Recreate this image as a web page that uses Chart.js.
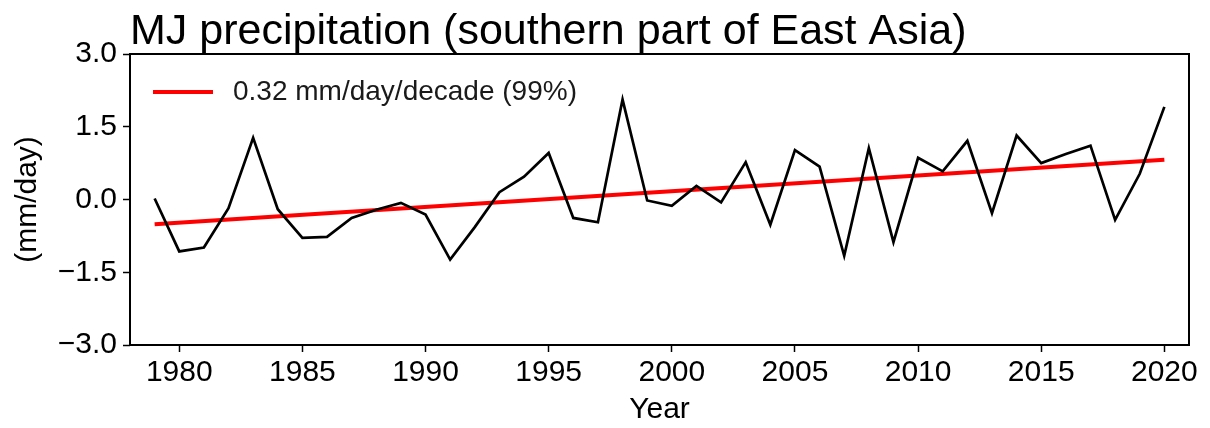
<!DOCTYPE html>
<html>
<head>
<meta charset="utf-8">
<script src="https://cdn.jsdelivr.net/npm/chart.js@4.4.1/dist/chart.umd.min.js"></script>
<style>
    html, body { margin: 0; padding: 0; background: #fff; }
    #wrap { width: 1210px; height: 428px; }
</style>
</head>
<body>
<div id="wrap"><canvas id="chart" width="1210" height="428"></canvas></div>
<script>
const years = [1979, 1980, 1981, 1982, 1983, 1984, 1985, 1986, 1987, 1988,
    1989, 1990, 1991, 1992, 1993, 1994, 1995, 1996, 1997, 1998,
    1999, 2000, 2001, 2002, 2003, 2004, 2005, 2006, 2007, 2008,
    2009, 2010, 2011, 2012, 2013, 2014, 2015, 2016, 2017, 2018,
    2019, 2020];
const precip = [0.02, -1.07, -0.99, -0.18, 1.27, -0.20, -0.79, -0.77, -0.38, -0.21,
    -0.07, -0.31, -1.24, -0.57, 0.15, 0.47, 0.96, -0.38, -0.47, 2.06,
    -0.02, -0.13, 0.28, -0.06, 0.77, -0.52, 1.02, 0.68, -1.16, 1.06,
    -0.88, 0.86, 0.58, 1.21, -0.28, 1.32, 0.75, 0.94, 1.11, -0.42,
    0.53, 1.91];
const trendYears = [1979, 2020];
const trendValues = [-0.51, 0.82];
const xTicks = [1980, 1985, 1990, 1995, 2000, 2005, 2010, 2015, 2020];
const yTicks = [-3.0, -1.5, 0.0, 1.5, 3.0];
const titleText = 'MJ precipitation (southern part of East Asia)';
const trendLabel = '0.32 mm/day/decade (99%)';

const FONT = "'Liberation Sans', Arial, sans-serif";

// title left-aligned on the plot, legend in the upper left, black frame
const framePlugin = {
    id: 'frame',
    afterDraw(chart) {
        const { ctx, chartArea: a } = chart;
        const trend = chart.data.datasets[1];
        ctx.save();
        ctx.strokeStyle = '#000';
        ctx.lineWidth = 2;
        ctx.strokeRect(a.left, a.top, a.right - a.left, a.bottom - a.top);

        ctx.fillStyle = '#000';
        ctx.font = '43px ' + FONT;
        ctx.textBaseline = 'alphabetic';
        ctx.textAlign = 'left';
        ctx.fillText(titleText, a.left, 44);

        // legend
        const ly = a.top + 38;
        ctx.strokeStyle = trend.borderColor;
        ctx.lineWidth = trend.borderWidth;
        ctx.beginPath();
        ctx.moveTo(a.left + 23, ly);
        ctx.lineTo(a.left + 83, ly);
        ctx.stroke();
        ctx.fillStyle = '#1a1a1a';
        ctx.font = '28px ' + FONT;
        ctx.textBaseline = 'middle';
        ctx.fillText(trend.label, a.left + 103, ly);
        ctx.restore();
    }
};

const ctx = document.getElementById('chart').getContext('2d');
new Chart(ctx, {
    type: 'line',
    data: {
        datasets: [{
            label: 'precip',
            data: years.map((y, i) => ({ x: y, y: precip[i] })),
            borderColor: '#000',
            borderWidth: 2.7,
            pointRadius: 0,
            tension: 0
        }, {
            label: trendLabel,
            data: trendYears.map((y, i) => ({ x: y, y: trendValues[i] })),
            borderColor: '#ff0000',
            backgroundColor: '#ff0000',
            borderWidth: 4,
            pointRadius: 0
        }]
    },
    options: {
        responsive: false,
        animation: false,
        layout: { padding: { top: 54, right: 21, left: 0, bottom: 0 } },
        plugins: {
            tooltip: { enabled: false },
            legend: { display: false }
        },
        scales: {
            x: {
                type: 'linear',
                min: 1978,
                max: 2021,
                afterBuildTicks: s => { s.ticks = xTicks.map(v => ({ value: v })); },
                afterFit: s => { s.height = 83; },
                grid: { drawOnChartArea: false, drawTicks: true, tickLength: 7, tickColor: '#000', tickWidth: 1.5 },
                border: { display: false },
                ticks: {
                    color: '#000',
                    padding: 3,
                    maxRotation: 0,
                    font: { family: FONT, size: 30 },
                    callback: v => String(v)
                },
                title: {
                    display: true,
                    text: 'Year',
                    color: '#000',
                    padding: { top: 0, bottom: 0 },
                    font: { family: FONT, size: 30 }
                }
            },
            y: {
                min: -3,
                max: 3,
                afterBuildTicks: s => { s.ticks = yTicks.map(v => ({ value: v })); },
                afterFit: s => { s.width = 130; },
                grid: { drawOnChartArea: false, drawTicks: true, tickLength: 7, tickColor: '#000', tickWidth: 1.5 },
                border: { display: false },
                ticks: {
                    color: '#000',
                    padding: 6,
                    font: { family: FONT, size: 30 },
                    callback: v => (v < 0 ? '\u2212' : '') + Math.abs(v).toFixed(1)
                },
                title: {
                    display: true,
                    text: '(mm/day)',
                    color: '#000',
                    padding: { top: 10, bottom: 0 },
                    font: { family: FONT, size: 30 }
                }
            }
        }
    },
    plugins: [framePlugin]
});
</script>
</body>
</html>
